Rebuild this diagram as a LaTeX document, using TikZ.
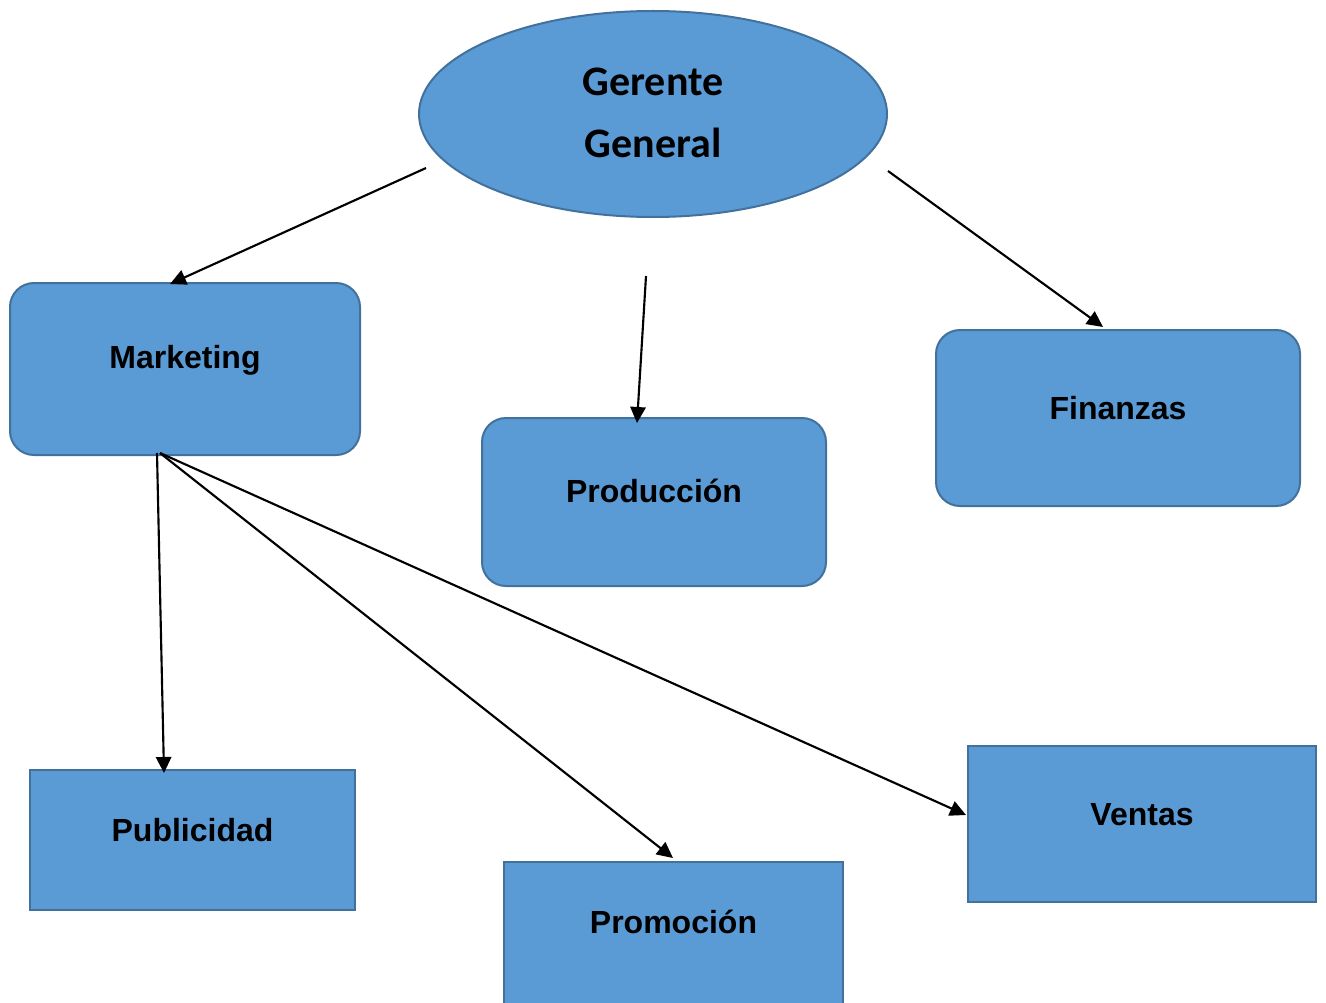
\documentclass[tikz,border=0pt]{standalone}
\usepackage{fontspec}
\setmainfont{Liberation Sans}
\newfontfamily\calib{Carlito}
\usetikzlibrary{arrows.meta,shapes.geometric}
\definecolor{boxfill}{HTML}{5B9BD5}
\definecolor{boxline}{HTML}{41719C}
\tikzset{
  blk/.style={draw=boxline,fill=boxfill,line width=1.5pt,inner sep=0pt,outer sep=0pt},
  rbox/.style={blk,rectangle,rounded corners=18pt},
  sbox/.style={blk,rectangle},
  lbl/.style={anchor=base,font=\fontsize{24}{28}\selectfont\bfseries},
  conn/.style={line width=1.6pt,-{Triangle[length=12pt,width=11.5pt]}}
}
\begin{document}
\begin{tikzpicture}[x=0.75pt,y=-0.75pt]
\useasboundingbox (0,0) rectangle (1326,1002);
\clip (0,0) rectangle (1326,1002);
\fill[white] (0,0) rectangle (1326,1002);
% nodes
\node[blk,ellipse,minimum width=351pt,minimum height=154.5pt] (gg) at (653,114) {};
\node[align=center,font=\calib\fontsize{31.5}{46.5}\selectfont\bfseries] (ggt) at (653,113) {Gerente\\General};
\node[rbox,minimum width=262.5pt,minimum height=129pt] (mk) at (185,369) {};
\node[lbl] (mkt) at (185,368) {Marketing};
\node[rbox,minimum width=258pt,minimum height=126pt] (pr) at (654,502) {};
\node[lbl] (prt) at (654,502) {Producción};
\node[rbox,minimum width=273pt,minimum height=132pt] (fi) at (1118,418) {};
\node[lbl] (fit) at (1118,419) {Finanzas};
\node[sbox,minimum width=243.75pt,minimum height=105pt] (pu) at (192.5,840) {};
\node[lbl] (put) at (192.5,841) {Publicidad};
\node[sbox,minimum width=254.25pt,minimum height=111pt] (po) at (673.5,936) {};
\node[lbl] (pot) at (673.5,933) {Promoción};
\node[sbox,minimum width=261pt,minimum height=117pt] (ve) at (1142,824) {};
\node[lbl] (vet) at (1142,825) {Ventas};
% connector end points
\coordinate (a1) at (426,168);  \coordinate (b1) at (170,284);
\coordinate (a2) at (646,276);  \coordinate (b2) at (637,423);
\coordinate (a3) at (888,171);  \coordinate (b3) at (1103,327);
\coordinate (a4) at (157,453);  \coordinate (b4) at (164,773);
\coordinate (a5) at (160,453);  \coordinate (b5) at (673,858);
\coordinate (b6) at (966,815);
\draw[conn] (a1) -- (b1);
\draw[conn] (a2) -- (b2);
\draw[conn] (a3) -- (b3);
\draw[conn] (a4) -- (b4);
\draw[conn] (a5) -- (b5);
\draw[conn] (a5) -- (b6);
\end{tikzpicture}
\end{document}
